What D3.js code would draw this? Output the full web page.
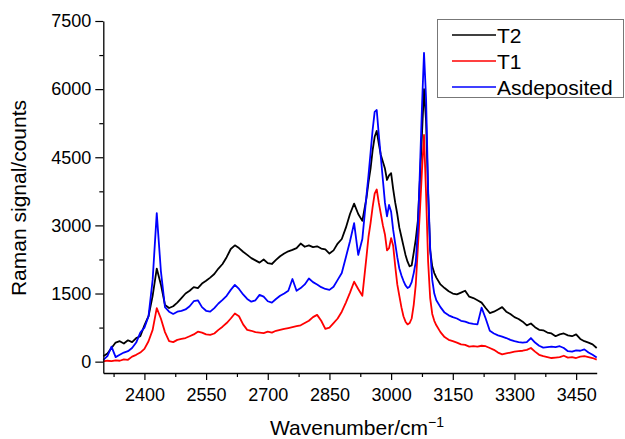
<!DOCTYPE html>
<html>
<head>
<meta charset="utf-8">
<script src="https://cdn.jsdelivr.net/npm/d3@7"></script>
<style>
  body { margin: 0; background: #fff; }
  svg text { font-family: "Liberation Sans", Arial, Helvetica, sans-serif; fill: #000; }
</style>
</head>
<body>
<div id="app"></div>
<script>
// wavenumbers (cm-1), shared by all three spectra
var wavenumbers = [
  2300,2310,2320,2330,2340,2350,2360,2370,2380,2390,2400,2410,2420,2430,2440,2450,2460,2470,2480,2490,
  2500,2510,2520,2530,2540,2550,2560,2570,2580,2590,2600,2610,2620,2630,2640,2650,2660,2670,2680,2690,
  2700,2710,2720,2730,2740,2750,2760,2770,2780,2790,2800,2810,2820,2830,2840,2850,2860,2870,2880,2890,
  2900,2910,2920,2930,2940,2945,2950,2955,2960,2965,2970,2975,2980,2985,2990,2995,3000,3005,3010,3015,
  3020,3025,3030,3035,3040,3045,3050,3055,3060,3065,3070,3075,3080,3085,3090,3095,3100,3105,3110,3120,
  3130,3140,3150,3160,3170,3180,3190,3200,3210,3220,3230,3240,3250,3260,3270,3280,3290,3300,3310,3320,
  3330,3340,3350,3360,3370,3380,3390,3400,3410,3420,3430,3440,3450,3460,3470,3480,3490,3500
];

var t2 = [
  120,180,300,420,450,400,470,430,520,560,800,1000,1450,2050,1700,1250,1180,1220,1300,1400,
  1500,1560,1640,1620,1720,1780,1850,1930,2050,2150,2300,2480,2560,2500,2420,2350,2280,2230,2180,2250,
  2170,2150,2240,2320,2380,2430,2460,2500,2600,2530,2560,2520,2540,2490,2470,2380,2450,2600,2700,2950,
  3250,3480,3250,3100,3600,3950,4250,4650,4950,5080,4800,4550,4400,4250,4000,4100,4150,3800,3500,3250,
  2950,2750,2550,2350,2200,2100,2120,2400,2700,3100,4000,5000,6000,5300,3700,2450,2100,1950,1850,1700,
  1620,1550,1500,1480,1520,1560,1430,1400,1350,1300,1180,1070,1100,1150,1200,1100,1050,980,940,880,
  800,840,760,700,690,640,620,560,600,620,580,560,600,500,450,420,380,300
];

var t1 = [
  5,20,10,30,20,50,40,110,150,200,280,450,700,1180,950,650,450,430,480,500,
  520,560,600,660,640,600,590,620,700,770,850,950,1060,1000,820,700,680,650,640,630,
  660,640,680,700,720,740,760,780,800,850,900,980,1030,900,720,750,850,950,1100,1300,
  1520,1760,1600,1450,2300,2750,3050,3400,3700,3790,3500,3250,3000,2800,2450,2500,2720,2550,2100,1700,
  1450,1200,1000,880,820,850,950,1250,1700,2500,3300,4200,4990,3700,2200,1400,1050,900,800,650,
  540,480,450,420,380,370,330,340,330,350,340,300,260,200,160,180,200,220,230,240,
  260,300,220,150,120,100,80,90,100,130,90,100,80,110,120,100,80,45
];

var asdeposited = [
  40,120,330,100,150,200,230,300,420,640,750,1000,1800,3270,2000,1200,1100,1050,1100,1120,
  1150,1220,1330,1350,1200,1120,1100,1180,1280,1360,1450,1580,1690,1600,1480,1380,1320,1350,1470,1430,
  1330,1300,1380,1450,1500,1560,1820,1560,1620,1700,1830,1750,1700,1640,1600,1580,1650,1800,1950,2300,
  2650,3050,2350,2700,3650,4100,4600,5100,5500,5540,5000,4500,4000,3500,3200,3450,3300,2900,2600,2300,
  2050,1900,1780,1680,1620,1650,1750,1950,2200,2900,4200,5600,6800,5800,3800,2500,1800,1500,1350,1200,
  1080,1020,980,950,900,880,850,830,820,1190,950,680,620,580,550,520,480,450,430,420,
  430,520,420,350,310,320,330,320,340,300,230,220,250,240,270,200,150,90
];

var seriesNames = ["T2", "T1", "Asdeposited"];
var seriesColors = ["#000000", "#ff0000", "#0000ff"];

var xTicks = [2400, 2550, 2700, 2850, 3000, 3150, 3300, 3450];
var xMinorTicks = [2325, 2475, 2625, 2775, 2925, 3075, 3225, 3375];
var yTicks = [0, 1500, 3000, 4500, 6000, 7500];
var yMinorTicks = [750, 2250, 3750, 5250, 6750];

var svgWidth = 625, svgHeight = 439;
var plot = { left: 103.3, right: 596.7, top: 21, bottom: 373 };

var svg = d3.select("#app")
            .append("svg")
            .attr("width", svgWidth)
            .attr("height", svgHeight);

var x = d3.scaleLinear().domain([2300, 3500]).range([plot.left, plot.right]);
var y = d3.scaleLinear().domain([-250, 7500]).range([plot.bottom, plot.top]);

// spectra
var line = d3.line()
             .x(function(d, i) { return x(wavenumbers[i]); })
             .y(function(d) { return y(d); });

var allSeries = [t2, t1, asdeposited];
svg.append("g").selectAll("path")
   .data(allSeries)
   .enter()
   .append("path")
   .attr("d", line)
   .attr("fill", "none")
   .attr("stroke", function(d, i) { return seriesColors[i]; })
   .attr("stroke-width", 1.8)
   .attr("stroke-linejoin", "round");

// axes
function styleAxis(g) {
    g.selectAll("path.domain").attr("stroke", "#000").attr("stroke-width", 1.3);
    g.selectAll(".tick line").attr("stroke", "#000").attr("stroke-width", 1.2);
    g.selectAll(".tick text").style("font-size", "18px");
}

svg.append("g")
   .attr("transform", "translate(0," + plot.bottom + ")")
   .call(d3.axisBottom(x).tickValues(xMinorTicks).tickSize(4).tickFormat(""))
   .call(function(g) { g.select(".domain").remove(); })
   .call(styleAxis);

svg.append("g")
   .attr("transform", "translate(" + plot.left + ",0)")
   .call(d3.axisLeft(y).tickValues(yMinorTicks).tickSize(4).tickFormat(""))
   .call(function(g) { g.select(".domain").remove(); })
   .call(styleAxis);

svg.append("g")
   .attr("transform", "translate(0," + plot.bottom + ")")
   .call(d3.axisBottom(x).tickValues(xTicks).tickSize(7).tickSizeOuter(0).tickPadding(8).tickFormat(d3.format("d")))
   .call(styleAxis);

svg.append("g")
   .attr("transform", "translate(" + plot.left + ",0)")
   .call(d3.axisLeft(y).tickValues(yTicks).tickSize(8).tickSizeOuter(0).tickPadding(4).tickFormat(d3.format("d")))
   .call(styleAxis);

// axis titles
var xTitle = svg.append("text")
   .attr("x", 357)
   .attr("y", 435)
   .attr("text-anchor", "middle")
   .style("font-size", "21px");
xTitle.append("tspan").text("Wavenumber/cm");
xTitle.append("tspan").attr("dy", -8).style("font-size", "14px").text("\u22121");

svg.append("text")
   .attr("transform", "translate(26,198) rotate(-90)")
   .attr("text-anchor", "middle")
   .style("font-size", "21px")
   .text("Raman signal/counts");

// legend
var legend = svg.append("g");
legend.append("rect")
      .attr("x", 437.5).attr("y", 19.5)
      .attr("width", 186).attr("height", 78)
      .attr("fill", "#fff")
      .attr("stroke", "#777")
      .attr("stroke-width", 1);

var rows = legend.selectAll("g.row")
      .data(seriesNames)
      .enter()
      .append("g")
      .attr("class", "row")
      .attr("transform", function(d, i) { return "translate(0," + (35 + i * 26) + ")"; });
rows.append("line")
    .attr("x1", 452).attr("x2", 496)
    .attr("stroke", function(d, i) { return seriesColors[i]; })
    .attr("stroke-width", 1.6);
rows.append("text")
    .attr("x", 497)
    .attr("dy", "0.36em")
    .style("font-size", "21px")
    .text(function(d) { return d; });
</script>
</body>
</html>
